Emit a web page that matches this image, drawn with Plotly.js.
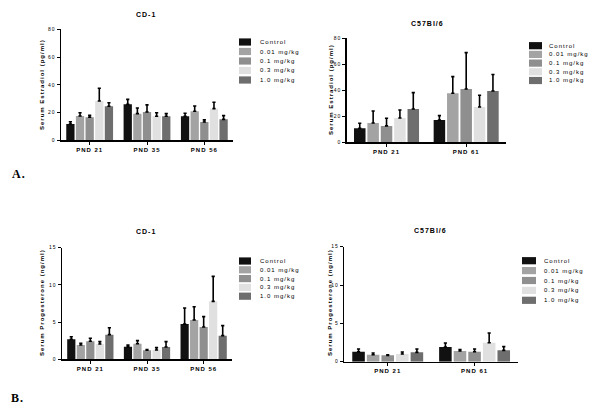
<!DOCTYPE html>
<html>
<head>
<meta charset="utf-8">
<script src="https://cdn.plot.ly/plotly-3.0.1.min.js"></script>
<style>
html,body{margin:0;padding:0;background:#fff;}
#chart{width:600px;height:410px;}
text{letter-spacing:1px;}
</style>
</head>
<body>
<div id="chart"></div>
<script>
// ---- data ----
const doses = ["Control", "0.01 mg/kg", "0.1 mg/kg", "0.3 mg/kg", "1.0 mg/kg"];
const doseColors = ["#111111", "#a3a3a3", "#8f8f8f", "#e0e0e0", "#6e6e6e"];

const cd1AgeCats = ["PND 21", "PND 35", "PND 56"];
const c57AgeCats = ["PND 21", "PND 61"];

// A: Serum Estradiol (pg/ml) — one row per dose, one entry per age
const cd1E2Mean = [
  [11.8, 25.9, 17.3],
  [17.5, 19.2, 20.9],
  [16.6, 20.4, 13.2],
  [28.3, 17.3, 22.8],
  [24.5, 17.3, 15.1]
];
const cd1E2Err = [
  [1.6, 3.6, 2.2],
  [2.4, 4.1, 3.8],
  [1.4, 5.1, 1.5],
  [9.2, 2.6, 4.6],
  [2.6, 1.9, 2.7]
];
const c57E2Mean = [
  [10.8, 17.2],
  [14.9, 37.7],
  [12.6, 41.0],
  [18.7, 27.2],
  [25.6, 39.5]
];
const c57E2Err = [
  [3.8, 3.3],
  [9.2, 12.8],
  [5.9, 28.0],
  [6.2, 9.0],
  [12.6, 12.6]
];

// B: Serum Progesterone (ng/ml)
const cd1P4Mean = [
  [2.69, 1.70, 4.75],
  [1.93, 2.10, 5.28],
  [2.42, 1.21, 4.34],
  [2.06, 1.25, 7.79],
  [3.31, 1.66, 3.18]
];
const cd1P4Err = [
  [0.35, 0.23, 2.15],
  [0.22, 0.41, 1.79],
  [0.40, 0.09, 1.39],
  [0.31, 0.32, 3.36],
  [0.94, 0.71, 1.34]
];
const c57P4Mean = [
  [1.30, 1.91],
  [0.91, 1.39],
  [0.83, 1.30],
  [1.00, 2.48],
  [1.22, 1.48]
];
const c57P4Err = [
  [0.35, 0.52],
  [0.22, 0.18],
  [0.08, 0.35],
  [0.26, 1.26],
  [0.43, 0.48]
];

const panelTitles = ["CD-1", "C57Bl/6", "CD-1", "C57Bl/6"];
const yTitles = ["Serum Estradiol (pg/ml)", "Serum Estradiol (pg/ml)",
                 "Serum Progesterone (ng/ml)", "Serum Progesterone (ng/ml)"];
const panelLetters = ["A.", "B."];

// ---- layout helpers (pixel geometry -> paper) ----
const W = 600, H = 410;
const px = x => x / W;
const py = y => 1 - y / H;

const panels = [
  {cats: cd1AgeCats, mean: cd1E2Mean, err: cd1E2Err, x0: 61, x1: 233, yTop: 29.3, yBot: 140.3, range: [0, 80], dtick: 20,
   title: [146, 14], ytitle: [42, 85], leg: {sx: 239, sw: 12, tx: 258, y0: 42, dy: 9.5}},
  {cats: c57AgeCats, mean: c57E2Mean, err: c57E2Err, x0: 346.7, x1: 506, yTop: 38.3, yBot: 142.3, range: [0, 80], dtick: 20,
   title: [427, 23], ytitle: [331, 90], leg: {sx: 529, sw: 13, tx: 547, y0: 45.7, dy: 8.7}},
  {cats: cd1AgeCats, mean: cd1P4Mean, err: cd1P4Err, x0: 62, x1: 232, yTop: 247.7, yBot: 359.3, range: [0, 15], dtick: 5,
   title: [146, 232], ytitle: [42, 303], leg: {sx: 239, sw: 12, tx: 258, y0: 261, dy: 8.8}},
  {cats: c57AgeCats, mean: c57P4Mean, err: c57P4Err, x0: 344.3, x1: 518, yTop: 246.7, yBot: 361.7, range: [0, 15], dtick: 5,
   title: [430, 231], ytitle: [330, 303], leg: {sx: 522, sw: 14, tx: 542, y0: 260.7, dy: 9.9}}
];

const font = "Liberation Sans, Arial, sans-serif";
const traces = [];
const layout = {
  width: W, height: H,
  margin: {l: 0, r: 0, t: 0, b: 0},
  paper_bgcolor: "#fff", plot_bgcolor: "#fff",
  barmode: "group", bargap: 0.16, bargroupgap: 0.14,
  showlegend: false,
  font: {family: font, size: 6, color: "#000"},
  shapes: [], annotations: []
};

panels.forEach((p, i) => {
  const n = i + 1;
  const xa = n === 1 ? "xaxis" : "xaxis" + n;
  const ya = n === 1 ? "yaxis" : "yaxis" + n;
  const xr = n === 1 ? "x" : "x" + n;
  const yr = n === 1 ? "y" : "y" + n;
  doses.forEach((d, k) => {
    traces.push({
      type: "bar", name: d, x: p.cats, y: p.mean[k],
      xaxis: xr, yaxis: yr,
      marker: {color: doseColors[k], line: {width: 0}},
      error_y: {type: "data", symmetric: false, array: p.err[k], arrayminus: p.err[k].map(() => 0),
                color: "#000", thickness: 1.6, width: 1.6}
    });
  });
  layout[xa] = {
    domain: [px(p.x0), px(p.x1)], anchor: yr,
    showline: true, linecolor: "#000", linewidth: 1.5,
    ticks: "outside", ticklen: 3, tickwidth: 1, tickcolor: "#000",
    tickfont: {family: font, size: 6, color: "#000", weight: "bold"},
    showgrid: false, zeroline: false, fixedrange: true
  };
  layout[ya] = {
    domain: [py(p.yBot), py(p.yTop)], anchor: xr,
    range: p.range, dtick: p.dtick, tick0: 0,
    showline: true, linecolor: "#000", linewidth: 1.5,
    ticks: "outside", ticklen: 3, tickwidth: 1, tickcolor: "#000",
    tickfont: {family: font, size: 5, color: "#000"},
    showgrid: false, zeroline: false, fixedrange: true
  };
  layout.annotations.push({
    text: panelTitles[i], xref: "paper", yref: "paper",
    x: px(p.title[0]), y: py(p.title[1]), xanchor: "center", yanchor: "middle",
    showarrow: false, font: {family: font, size: 7, color: "#000", weight: "bold"}
  });
  layout.annotations.push({
    text: yTitles[i], xref: "paper", yref: "paper", textangle: -90,
    x: px(p.ytitle[0]), y: py(p.ytitle[1]), xanchor: "center", yanchor: "middle",
    showarrow: false, font: {family: font, size: 6, color: "#000", weight: "bold"}
  });
  doses.forEach((d, k) => {
    const cy = p.leg.y0 + k * p.leg.dy;
    layout.shapes.push({
      type: "rect", xref: "paper", yref: "paper",
      x0: px(p.leg.sx), x1: px(p.leg.sx + p.leg.sw),
      y0: py(cy + 3.6), y1: py(cy - 3.6),
      fillcolor: doseColors[k], line: {width: 0}
    });
    layout.annotations.push({
      text: d, xref: "paper", yref: "paper",
      x: px(p.leg.tx), y: py(cy), xanchor: "left", yanchor: "middle",
      showarrow: false, font: {family: font, size: 6, color: "#000"}
    });
  });
});

[[19, 174], [17, 398]].forEach((pos, i) => {
  layout.annotations.push({
    text: "<b>" + panelLetters[i] + "</b>", xref: "paper", yref: "paper",
    x: px(pos[0]), y: py(pos[1]), xanchor: "center", yanchor: "middle",
    showarrow: false, font: {family: "Liberation Serif, Times New Roman, serif", size: 12, color: "#000"}
  });
});

Plotly.newPlot("chart", traces, layout, {displayModeBar: false, staticPlot: true});
</script>
</body>
</html>
